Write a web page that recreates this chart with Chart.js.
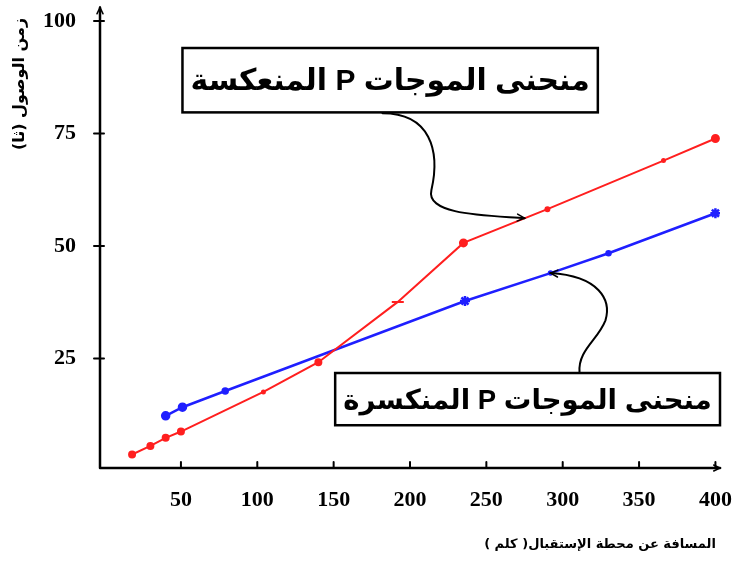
<!DOCTYPE html>
<html>
<head>
<meta charset="utf-8">
<script src="https://cdn.jsdelivr.net/npm/chart.js@4.4.1/dist/chart.umd.min.js"></script>
<style>
  body { margin: 0; background: #fff; }
  #wrap { width: 742px; height: 561px; }
</style>
</head>
<body>
<div id="wrap"><canvas id="myChart" width="742" height="561"></canvas></div>
<script>
// distance (km) / arrival time (s)
const reflectedX = [18, 30, 40, 50, 104, 140, 192, 235, 290, 366, 400];
const reflectedY = [3.7, 5.6, 7.4, 8.8, 17.6, 24.2, 37.6, 50.7, 58.2, 69.0, 73.9];
const refractedX = [40, 51, 79, 236, 292, 330, 400];
const refractedY = [12.3, 14.2, 17.8, 37.8, 44.0, 48.4, 57.3];
const xTicks = [50, 100, 150, 200, 250, 300, 350, 400];
const yTicks = [25, 50, 75, 100];

const xTitle = 'المسافة عن محطة الإستقبال( كلم )';
const yTitle = 'زمن الوصول (ثا)';
const label1 = 'منحنى الموجات P المنعكسة';
const label2 = 'منحنى الموجات P المنكسرة';

// boxes and arrows placed in data units
const box1 = {x0: 51, x1: 323, y0: 94, y1: 79.7, text: label1};
const box2 = {x0: 151, x1: 403, y0: 21.8, y1: 10.2, text: label2};
const arrow1 = [[182, 79.5], [213, 79.5], [220, 71.3], [214, 62.4], [210, 56.8], [252, 56.8], [275, 56.2]];
const arrow2 = [[311, 22.0], [310, 26.9], [323, 29.1], [328, 33.5], [332, 38.0], [324, 43.3], [292, 44.0]];

function toPts(xs, ys) {
    return xs.map((x, i) => ({x: x, y: ys[i]}));
}

function fitFont(ctx, text, width, weight, family, maxSize) {
    ctx.font = weight + ' ' + maxSize + 'px ' + family;
    let w = ctx.measureText(text).width;
    return Math.min(maxSize, maxSize * width / w);
}

function arrowHead(ctx, x, y, ang, len) {
    ctx.beginPath();
    ctx.moveTo(x - len * Math.cos(ang - 0.45), y - len * Math.sin(ang - 0.45));
    ctx.lineTo(x, y);
    ctx.lineTo(x - len * Math.cos(ang + 0.45), y - len * Math.sin(ang + 0.45));
    ctx.stroke();
}

const extras = {
    id: 'extras',
    afterDraw(chart) {
        const ctx = chart.ctx;
        const xs = chart.scales.x, ys = chart.scales.y;
        const a = chart.chartArea;
        const px = v => xs.getPixelForValue(v);
        const py = v => ys.getPixelForValue(v);
        ctx.save();
        ctx.strokeStyle = '#000';
        ctx.fillStyle = '#000';
        ctx.lineCap = 'round';

        // axes with arrows
        ctx.lineWidth = 2.5;
        ctx.beginPath();
        ctx.moveTo(a.left, a.bottom);
        ctx.lineTo(a.left, a.top);
        ctx.moveTo(a.left, a.bottom);
        ctx.lineTo(a.right, a.bottom);
        ctx.stroke();
        ctx.lineWidth = 1.5;
        arrowHead(ctx, a.left, a.top, -Math.PI / 2, 7);
        arrowHead(ctx, a.right, a.bottom, 0, 7);

        // tick marks
        ctx.lineWidth = 2;
        yTicks.forEach(v => {
            ctx.beginPath();
            ctx.moveTo(a.left - 6, py(v));
            ctx.lineTo(a.left + 4, py(v));
            ctx.stroke();
        });
        xTicks.forEach(v => {
            ctx.beginPath();
            ctx.moveTo(px(v), a.bottom);
            ctx.lineTo(px(v), a.bottom - 6);
            ctx.stroke();
        });

        // curved arrows
        [arrow1, arrow2].forEach(arr => {
            const p = arr.map(q => [px(q[0]), py(q[1])]);
            ctx.lineWidth = 2;
            ctx.beginPath();
            ctx.moveTo(p[0][0], p[0][1]);
            ctx.bezierCurveTo(p[1][0], p[1][1], p[2][0], p[2][1], p[3][0], p[3][1]);
            ctx.bezierCurveTo(p[4][0], p[4][1], p[5][0], p[5][1], p[6][0], p[6][1]);
            ctx.stroke();
            const ang = Math.atan2(p[6][1] - p[5][1], p[6][0] - p[5][0]);
            ctx.lineWidth = 1.5;
            arrowHead(ctx, p[6][0], p[6][1], ang, 8);
        });

        // label boxes
        [box1, box2].forEach(b => {
            const x0 = px(b.x0), x1 = px(b.x1), y0 = py(b.y0), y1 = py(b.y1);
            ctx.fillStyle = '#fff';
            ctx.fillRect(x0, y0, x1 - x0, y1 - y0);
            ctx.lineWidth = 2.5;
            ctx.strokeRect(x0, y0, x1 - x0, y1 - y0);
            const fam = '"Liberation Sans", "DejaVu Sans", sans-serif';
            const size = fitFont(ctx, b.text, (x1 - x0) - 16, 'bold', fam, 40);
            ctx.font = 'bold ' + size + 'px ' + fam;
            ctx.fillStyle = '#000';
            ctx.direction = 'rtl';
            ctx.textAlign = 'center';
            ctx.textBaseline = 'middle';
            ctx.fillText(b.text, (x0 + x1) / 2, (y0 + y1) / 2 + 2);
        });

        // axis titles
        const tfam = '"DejaVu Sans", sans-serif';
        ctx.direction = 'rtl';
        ctx.fillStyle = '#000';
        let s = fitFont(ctx, xTitle, 232, 'bold', tfam, 16);
        ctx.font = 'bold ' + s + 'px ' + tfam;
        ctx.textAlign = 'center';
        ctx.textBaseline = 'middle';
        ctx.fillText(xTitle, 600, 545);

        s = fitFont(ctx, yTitle, 145, 'bold', tfam, 16);
        ctx.font = 'bold ' + s + 'px ' + tfam;
        ctx.translate(20, 84);
        ctx.rotate(-Math.PI / 2);
        ctx.fillText(yTitle, 0, 0);
        ctx.restore();
    }
};

const data = {
    datasets: [{
        label: label1,
        data: toPts(reflectedX, reflectedY),
        borderColor: '#ff1f1f',
        backgroundColor: '#ff1f1f',
        borderWidth: 2,
        pointRadius: [3, 3, 3, 3, 1.5, 3, 6, 3.5, 2, 1.5, 3.5],
        pointStyle: ['circle', 'circle', 'circle', 'circle', 'circle', 'circle', 'line', 'circle', 'circle', 'circle', 'circle'],
        tension: 0
    }, {
        label: label2,
        data: toPts(refractedX, refractedY),
        borderColor: '#1f1fff',
        backgroundColor: '#1f1fff',
        borderWidth: 2.5,
        pointRadius: [3.5, 3.5, 2.5, 5, 1.5, 2, 5],
        pointStyle: ['circle', 'circle', 'circle', 'star', 'circle', 'circle', 'star'],
        tension: 0
    }]
};

const config = {
    type: 'line',
    data: data,
    plugins: [extras],
    options: {
        responsive: false,
        animation: false,
        devicePixelRatio: 1,
        layout: {padding: {top: 7, right: 22, left: 0, bottom: 0}},
        plugins: {legend: {display: false}, tooltip: {enabled: false}},
        scales: {
            x: {
                type: 'linear',
                min: -3,
                max: 403,
                afterBuildTicks: s => { s.ticks = xTicks.map(v => ({value: v})); },
                afterFit: s => { s.height = 93; s.paddingLeft = 0; s.paddingRight = 0; },
                grid: {display: false},
                border: {display: false},
                ticks: {
                    color: '#000',
                    padding: 11,
                    maxRotation: 0,
                    font: {family: '"Liberation Serif", serif', size: 22, weight: 'bold'}
                }
            },
            y: {
                type: 'linear',
                min: 0.7,
                max: 103,
                afterBuildTicks: s => { s.ticks = yTicks.map(v => ({value: v})); },
                afterFit: s => { s.width = 100; s.paddingTop = 0; s.paddingBottom = 0; },
                grid: {display: false},
                border: {display: false},
                ticks: {
                    color: '#000',
                    padding: 16,
                    font: {family: '"Liberation Serif", serif', size: 22, weight: 'bold'}
                }
            }
        }
    }
};

const ctx = document.getElementById('myChart').getContext('2d');
var myChart = new Chart(ctx, config);
</script>
</body>
</html>
